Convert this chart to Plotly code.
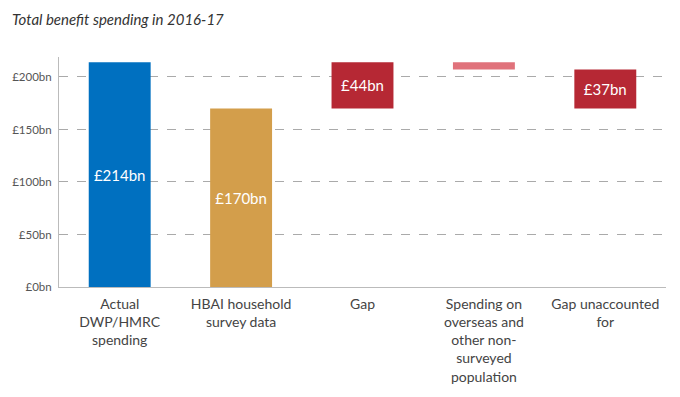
import plotly.graph_objects as go

categories = ["Actual<br>DWP/HMRC<br>spending", "HBAI household<br>survey data", "Gap",
              "Spending on<br>overseas and<br>other non-<br>surveyed<br>population", "Gap unaccounted<br>for"]
bases = [0, 0, 170, 207, 170]
heights = [214, 170, 44, 7, 37]
labels = ["£214bn", "£170bn", "£44bn", "", "£37bn"]
colors = ["#0070C0", "#D39E4B", "#B62834", "#E0727B", "#B62834"]
tick_vals = [0, 50, 100, 150, 200]
tick_text = ["£0bn", "£50bn", "£100bn", "£150bn", "£200bn"]

font = "Lato, 'Open Sans', sans-serif"

fig = go.Figure()
fig.add_trace(go.Bar(
    x=categories, y=heights, base=bases,
    marker=dict(color=colors, line=dict(width=0)),
    text=labels, textposition="inside", insidetextanchor="middle",
    textfont=dict(color="white", size=15, family=font),
    width=0.51, hoverinfo="skip", cliponaxis=False,
))

fig.update_layout(
    width=672, height=389,
    margin=dict(l=51, r=14, t=49, b=110),
    plot_bgcolor="white", paper_bgcolor="white",
    showlegend=False,
    font=dict(family=font, color="#555"),
    uniformtext=dict(mode="show", minsize=15),
)
fig.update_yaxes(
    range=[0, 219], tickvals=tick_vals, ticktext=tick_text,
    showgrid=True, gridcolor="#aaaaaa", griddash="dash", gridwidth=1,
    zeroline=False, showline=True, linecolor="#bbbbbb", linewidth=1,
    tickfont=dict(size=11.5, color="#555"), ticks="", ticklabelstandoff=4,
    automargin=False,
)
fig.update_xaxes(
    showline=True, linecolor="#bbbbbb", linewidth=1, ticks="",
    tickfont=dict(size=14, color="#444"), tickangle=0, automargin=False,
    ticklabelstandoff=4,
)
fig.add_annotation(
    text="<i>Total benefit spending in 2016-17</i>", xref="paper", yref="paper",
    x=-49/607, y=1, yshift=38, xanchor="left", yanchor="middle", showarrow=False,
    font=dict(size=15, color="#333", family=font),
)

fig.write_html("out.html")
